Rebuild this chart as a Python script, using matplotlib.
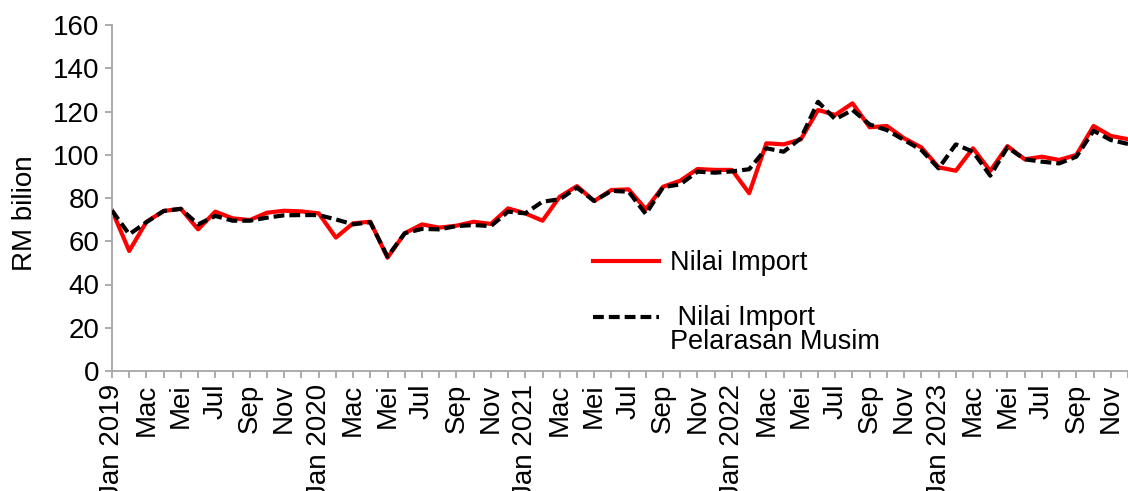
import matplotlib
matplotlib.use('Agg')
import matplotlib.pyplot as plt
from matplotlib.legend_handler import HandlerLine2D
import numpy as np

plt.rcParams['font.family'] = ['Liberation Sans', 'DejaVu Sans']

# monthly labels, Jan 2019 - Dec 2023 (Malay month names)
month_names = ['Jan', 'Feb', 'Mac', 'Apr', 'Mei', 'Jun',
               'Jul', 'Ogo', 'Sep', 'Okt', 'Nov', 'Dis']
years = [2019, 2020, 2021, 2022, 2023]

# RM billion
import_value = [
    74.2, 55.5, 69.0, 74.0, 75.0, 65.5, 73.7, 70.6, 69.8, 73.2, 74.1, 73.8,
    72.9, 61.7, 68.3, 69.0, 52.4, 63.7, 67.8, 66.3, 67.2, 69.0, 68.0, 75.2,
    72.9, 69.5, 80.6, 85.5, 78.6, 83.7, 84.0, 74.8, 85.2, 88.0, 93.4, 93.0,
    93.0, 82.2, 105.3, 104.8, 107.1, 120.7, 118.4, 123.8, 112.7, 113.3, 107.6, 103.4,
    94.2, 92.6, 103.0, 92.5, 104.0, 97.9, 99.1, 97.6, 99.9, 113.3, 108.7, 107.2,
]
import_sa = [
    74.2, 63.2, 68.8, 74.0, 75.0, 67.8, 71.7, 69.5, 69.5, 70.9, 72.0, 72.1,
    72.1, 70.1, 67.8, 68.8, 52.9, 63.7, 65.7, 65.5, 67.0, 67.5, 67.0, 73.7,
    72.9, 78.3, 79.4, 84.8, 78.6, 83.3, 82.9, 72.6, 85.0, 86.3, 92.2, 91.7,
    92.3, 93.3, 103.0, 101.4, 107.6, 124.5, 116.4, 120.7, 114.0, 111.4, 106.8, 102.2,
    93.7, 104.8, 101.4, 90.3, 103.4, 97.9, 96.8, 96.0, 99.1, 111.1, 106.8, 105.0,
]

labels = []
for y in years:
    for i, m in enumerate(month_names):
        labels.append(f'{m} {y}' if i == 0 else m)


class ShiftedLine(HandlerLine2D):
    # legend handle lined up with the first line of a two-line label
    def __init__(self, dy, **kw):
        super().__init__(**kw)
        self.dy = dy

    def create_artists(self, legend, orig_handle, xdescent, ydescent,
                       width, height, fontsize, trans):
        artists = super().create_artists(legend, orig_handle, xdescent, ydescent,
                                         width, height, fontsize, trans)
        for a in artists:
            a.set_ydata(np.asarray(a.get_ydata()) + self.dy)
        return artists


x = np.arange(len(import_value))

fig = plt.figure(figsize=(11.28, 4.91), dpi=100)
ax = fig.add_axes([112 / 1128, 120 / 491, 1016 / 1128, 346 / 491])

red_line, = ax.plot(x, import_value, color='#FF0000', linewidth=3,
                    label='Nilai Import', zorder=2)
sa_line, = ax.plot(x, import_sa, color='black', linewidth=3, dashes=(2.6, 1.2),
                   label=' Nilai Import\nPelarasan Musim', zorder=3)

ax.set_xlim(0, len(x) - 1)
ax.set_ylim(0, 160)
ax.set_yticks(range(0, 161, 20))
ax.set_xticks(x[::2])
ax.set_xticklabels(labels[::2], rotation=90)
ax.set_xticks(x, minor=True)

for s in ['top', 'right']:
    ax.spines[s].set_visible(False)
for s in ['left', 'bottom']:
    ax.spines[s].set_color('#A6A6A6')
    ax.spines[s].set_linewidth(1.3)

ax.tick_params(axis='both', which='both', color='#A6A6A6', width=1.3, length=5,
               labelsize=20, labelcolor='black')
ax.tick_params(axis='y', pad=4)
ax.tick_params(axis='x', pad=4)

ax.set_ylabel('RM bilion', fontsize=20)
ax.yaxis.set_label_coords(-0.073, 0.455)

leg = ax.legend(loc='upper left', bbox_to_anchor=(593 / 1128, 1 - 250 / 491),
                bbox_transform=fig.transFigure, frameon=False, fontsize=19.5,
                handlelength=2.45, handletextpad=0.38, labelspacing=1.07,
                borderpad=0, borderaxespad=0,
                handler_map={sa_line: ShiftedLine(9.8)})
for t in leg.get_texts():
    t.set_linespacing(0.88)

plt.savefig('out.png', dpi=100)
